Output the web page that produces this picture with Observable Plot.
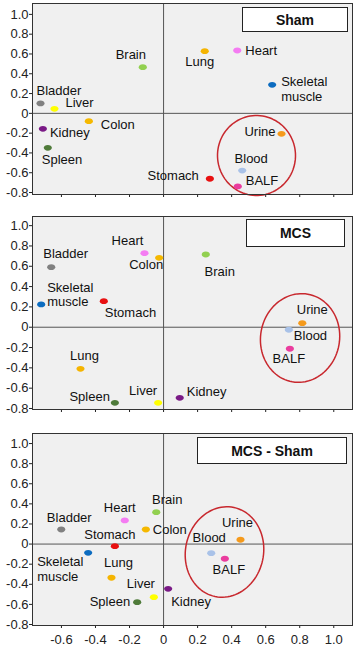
<!DOCTYPE html>
<html>
<head>
<meta charset="utf-8">
<script src="https://cdn.jsdelivr.net/npm/d3@7"></script>
<script src="https://cdn.jsdelivr.net/npm/@observablehq/plot@0.6"></script>
<style>
  html, body { margin: 0; padding: 0; background: #fff; }
  #wrap { position: relative; width: 355px; height: 649px; overflow: hidden; font-family: "Liberation Sans", Arial, sans-serif; }
  .panel { position: absolute; left: 0; }
  .tag { position: absolute; background: #fff; border: 1.5px solid #222; box-sizing: border-box;
         display: flex; align-items: center; justify-content: center;
         font: bold 14px "Liberation Sans", Arial, sans-serif; color: #111; }
</style>
</head>
<body>
<div id="wrap"></div>
<script>
// ---- data ----
const organs = ["Bladder", "Liver", "Kidney", "Colon", "Spleen", "Brain", "Lung", "Heart",
                "Skeletal muscle", "Urine", "Blood", "BALF", "Stomach"];

const shamX = [-0.723, -0.641, -0.709, -0.439, -0.680, -0.122, 0.242, 0.433, 0.638, 0.693, 0.462, 0.436, 0.272];
const shamY = [0.100, 0.046, -0.156, -0.079, -0.348, 0.466, 0.628, 0.635, 0.288, -0.207, -0.578, -0.739, -0.661];

const mcsX = [-0.660, -0.032, 0.095, -0.026, -0.286, 0.248, -0.488, -0.112, -0.719, 0.815, 0.736, 0.742, -0.351];
const mcsY = [0.591, -0.744, -0.695, 0.683, -0.744, 0.716, -0.409, 0.729, 0.224, 0.040, -0.025, -0.212, 0.256];

const diffX = [-0.601, -0.057, 0.027, -0.104, -0.155, -0.043, -0.306, -0.228, -0.443, 0.452, 0.280, 0.360, -0.286];
const diffY = [0.145, -0.528, -0.445, 0.145, -0.578, 0.317, -0.335, 0.235, -0.087, 0.043, -0.091, -0.146, -0.021];

const panelTitles = ["Sham", "MCS", "MCS - Sham"];
const xTickValues = [-0.6, -0.4, -0.2, 0, 0.2, 0.4, 0.6, 0.8, 1.0];
const yTickValues = [-0.8, -0.6, -0.4, -0.2, 0, 0.2, 0.4, 0.6, 0.8, 1.0];

// ---- styles / layout (kept separate from data) ----
const organColors = ["#808080", "#ffff00", "#7a1a86", "#f5b800", "#4f7b3a", "#92d050", "#f5b400",
                     "#f47cf2", "#0c6cc0", "#f59a1c", "#a9c2e8", "#ea3c9e", "#e81010"];

// [textAnchor, dx, dy] per organ, per panel
const labelLayout = [
  [["start",-4,-13],["start",11,-6],["start",7,4],["start",12,3],["start",-6,12],["middle",-12,-13],
   ["middle",-5,10],["start",8,0],["start",9,4],["end",-6,-2],["middle",9,-12],["start",8,-6],["end",-11,-3]],
  [["start",-8,-14],["middle",-15,-12],["start",7,-6],["middle",-13,7],["end",-5,-6],["middle",14,17],
   ["middle",4,-13],["middle",-17,-13],["start",6,-10],["middle",10,-14],["start",5,6],["middle",-1,10],["start",1,11]],
  [["middle",8,-12],["middle",-13,-14],["start",3,13],["start",7,0],["end",-7,-1],["middle",11,-13],
   ["middle",7,-15],["middle",-5,-13],["start",-51,16],["middle",-3,-17],["middle",-2,-16],["middle",4,11],["middle",-5,-12]]
];

// ellipse annotation: center (data), radii (px), tilt (deg)
const ellipses = [
  {cx: 0.546, cy: -0.426, rx: 39, ry: 40, angle: -2},
  {cx: 0.802, cy: -0.106, rx: 39.5, ry: 44.5, angle: 10},
  {cx: 0.358, cy: -0.079, rx: 39, ry: 45.5, angle: 12}
];

const panels = [
  {xs: shamX, ys: shamY, top: 0, height: 210, mt: 3, mb: 16, yDomain: [-0.82, 1.11], xLabels: false,
   tag: {left: 242, top: 7, width: 106, height: 25}},
  {xs: mcsX, ys: mcsY, top: 210, height: 217, mt: 6, mb: 18, yDomain: [-0.81, 1.09], xLabels: false,
   tag: {left: 246, top: 219, width: 99, height: 28}},
  {xs: diffX, ys: diffY, top: 427, height: 222, mt: 6, mb: 24, yDomain: [-0.81, 1.10], xLabels: true,
   tag: {left: 197, top: 437, width: 150, height: 27}}
];

const W = 355, ML = 32, MR = 3;
const xDomain = [-0.77, 1.11];
const fmt = d => d === 0 ? "0" : d.toFixed(1);

const ellipseSymbol = {
  draw(ctx, size) {
    const r = Math.sqrt(size / Math.PI), a = r * 1.2, b = r * 0.85, k = 0.5523;
    ctx.moveTo(a, 0);
    ctx.bezierCurveTo(a, b * k, a * k, b, 0, b);
    ctx.bezierCurveTo(-a * k, b, -a, b * k, -a, 0);
    ctx.bezierCurveTo(-a, -b * k, -a * k, -b, 0, -b);
    ctx.bezierCurveTo(a * k, -b, a, -b * k, a, 0);
    ctx.closePath();
  }
};

const wrap = document.getElementById("wrap");

panels.forEach((p, pi) => {
  const rows = organs.map((name, i) => ({name, x: p.xs[i], y: p.ys[i], color: organColors[i]}));
  const innerH = p.height - p.mt - p.mb;
  const kx = (W - ML - MR) / (xDomain[1] - xDomain[0]);
  const ky = innerH / (p.yDomain[1] - p.yDomain[0]);
  const e = ellipses[pi];
  const th = e.angle * Math.PI / 180;
  const ring = d3.range(0, 97).map(j => {
    const t = j / 96 * 2 * Math.PI;
    const u = e.rx * Math.cos(t), v = e.ry * Math.sin(t);
    const u2 = u * Math.cos(th) - v * Math.sin(th);
    const v2 = u * Math.sin(th) + v * Math.cos(th);
    return {x: e.cx + u2 / kx, y: e.cy - v2 / ky};
  });

  const labelMarks = rows.map((r, i) => {
    const [anchor, dx, dy] = labelLayout[pi][i];
    return Plot.text([r], {
      x: "x", y: "y", text: d => d.name.replace(" ", "\n"),
      textAnchor: anchor, dx, dy, lineHeight: 1.1, fill: "#111", fontSize: 13
    });
  });

  const chart = Plot.plot({
    width: W, height: p.height,
    marginLeft: ML, marginRight: MR, marginTop: p.mt, marginBottom: p.mb,
    style: {fontFamily: "'Liberation Sans', Arial, sans-serif", fontSize: "13px", background: "transparent", color: "#222"},
    x: {domain: xDomain, ticks: xTickValues, tickSize: 3, tickPadding: 6,
        tickFormat: p.xLabels ? fmt : () => "", label: null},
    y: {domain: p.yDomain, ticks: yTickValues, tickSize: 3, tickPadding: 1, tickFormat: fmt, label: null},
    color: {type: "identity"},
    marks: [
      Plot.frame({fill: "#f0f0f0", stroke: "none"}),
      Plot.ruleX([0], {stroke: "#555", strokeWidth: 1}),
      Plot.ruleY([0], {stroke: "#555", strokeWidth: 1}),
      Plot.line(ring, {x: "x", y: "y", curve: "linear-closed", stroke: "#c8282e", strokeWidth: 1.5}),
      Plot.dot(rows, {x: "x", y: "y", fill: "color", r: 3.4, symbol: ellipseSymbol}),
      ...labelMarks,
      Plot.frame({stroke: "#333", strokeWidth: 1})
    ]
  });
  chart.classList.add("panel");
  chart.style.top = p.top + "px";
  wrap.appendChild(chart);

  const tag = document.createElement("div");
  tag.className = "tag";
  Object.assign(tag.style, {left: p.tag.left + "px", top: p.tag.top + "px",
                            width: p.tag.width + "px", height: p.tag.height + "px"});
  tag.textContent = panelTitles[pi];
  wrap.appendChild(tag);
});
</script>
</body>
</html>
